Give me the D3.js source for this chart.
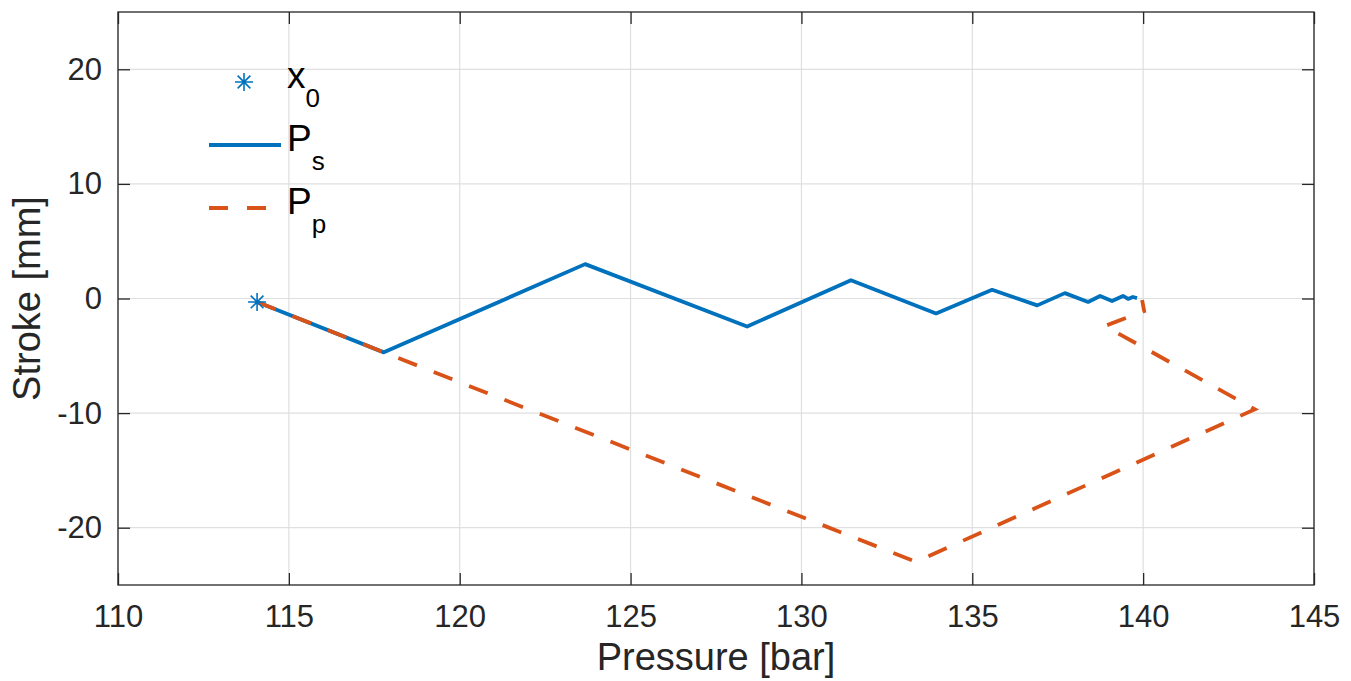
<!DOCTYPE html>
<html>
<head>
<meta charset="utf-8">
<script src="https://cdn.jsdelivr.net/npm/d3@7"></script>
<style>
  html, body { margin: 0; padding: 0; background: #fff; }
  svg { display: block; font-family: "Liberation Sans", Arial, Helvetica, sans-serif; }
</style>
</head>
<body>
<svg id="chart" width="1351" height="681"></svg>
<script>
// ---- data ----
const x0Point = [114.07, -0.3];
const psX = [114.07, 117.78, 123.67, 128.41, 131.45, 133.94, 135.58, 136.9, 137.71, 138.39, 138.74, 139.09, 139.41, 139.56, 139.7, 139.82];
const psY = [-0.3, -4.7, 3.0, -2.45, 1.6, -1.3, 0.76, -0.6, 0.47, -0.3, 0.22, -0.22, 0.22, -0.04, 0.13, 0.04];
const ppX = [114.07, 117.78, 133.35, 143.27, 138.88, 140.03, 139.97];
const ppY = [-0.3, -4.7, -22.98, -9.67, -2.4, -1.1, -0.13];
const xTicks = [110, 115, 120, 125, 130, 135, 140, 145];
const yTicks = [-20, -10, 0, 10, 20];
const xLabel = "Pressure [bar]";
const yLabel = "Stroke [mm]";
const legendItems = [
  { base: "x", sub: "0", kind: "marker" },
  { base: "P", sub: "s", kind: "solid" },
  { base: "P", sub: "p", kind: "dashed" }
];

// ---- layout ----
const L = 118, R = 1314, T = 12, B = 585;
const axisColor = "#262626";
const gridColor = "#dfdfdf";
const blue = "#0072BD", orange = "#D95319";

const svg = d3.select("#chart");
const x = d3.scaleLinear().domain([110, 145]).range([L, R]);
const y = d3.scaleLinear().domain([-25, 25]).range([B, T]);

// grid
const grid = svg.append("g");
grid.selectAll(".gx").data(xTicks).join("line")
  .attr("x1", d => x(d)).attr("x2", d => x(d)).attr("y1", T).attr("y2", B)
  .attr("stroke", gridColor).attr("stroke-width", 1.2);
grid.selectAll(".gy").data(yTicks).join("line")
  .attr("x1", L).attr("x2", R).attr("y1", d => y(d)).attr("y2", d => y(d))
  .attr("stroke", gridColor).attr("stroke-width", 1.2);

// axes
const fmt = d => String(d);
function styleAxis(g) {
  g.select(".domain").remove();
  g.selectAll(".tick line").attr("stroke", axisColor).attr("stroke-width", 1.3);
  g.selectAll("text").attr("fill", axisColor).attr("font-size", 31)
    .attr("font-family", "Liberation Sans, Arial, sans-serif");
}
svg.append("g").attr("transform", `translate(0,${B})`)
  .call(d3.axisBottom(x).tickValues(xTicks).tickSizeInner(-12).tickSizeOuter(0).tickPadding(20).tickFormat(fmt))
  .call(styleAxis);
svg.append("g").attr("transform", `translate(0,${T})`)
  .call(d3.axisTop(x).tickValues(xTicks).tickSizeInner(-12).tickSizeOuter(0).tickFormat(""))
  .call(styleAxis);
svg.append("g").attr("transform", `translate(${L},0)`)
  .call(d3.axisLeft(y).tickValues(yTicks).tickSizeInner(-12).tickSizeOuter(0).tickPadding(16).tickFormat(fmt))
  .call(styleAxis);
svg.append("g").attr("transform", `translate(${R},0)`)
  .call(d3.axisRight(y).tickValues(yTicks).tickSizeInner(-12).tickSizeOuter(0).tickFormat(""))
  .call(styleAxis);

// box
svg.append("rect").attr("x", L).attr("y", T).attr("width", R - L).attr("height", B - T)
  .attr("fill", "none").attr("stroke", axisColor).attr("stroke-width", 1.3);

// axis labels
svg.append("text").attr("x", (L + R) / 2).attr("y", 670).attr("text-anchor", "middle")
  .attr("font-size", 38).attr("fill", axisColor).text(xLabel);
svg.append("text").attr("transform", `translate(40,${(T + B) / 2}) rotate(-90)`).attr("text-anchor", "middle")
  .attr("font-size", 38).attr("fill", axisColor).text(yLabel);

// lines
const line = d3.line().x(d => x(d[0])).y(d => y(d[1]));
const psData = psX.map((v, i) => [v, psY[i]]);
const ppData = ppX.map((v, i) => [v, ppY[i]]);
svg.append("path").datum(psData).attr("d", line).attr("fill", "none")
  .attr("stroke", blue).attr("stroke-width", 3.8).attr("stroke-linejoin", "round");
svg.append("path").datum(ppData).attr("d", line).attr("fill", "none")
  .attr("stroke", orange).attr("stroke-width", 3.8).attr("stroke-dasharray", "20,18");

// asterisk marker
function asterisk(g, cx, cy, r) {
  const d = r * Math.SQRT1_2;
  const p = `M${cx - r},${cy}L${cx + r},${cy}M${cx},${cy - r}L${cx},${cy + r}` +
            `M${cx - d},${cy - d}L${cx + d},${cy + d}M${cx - d},${cy + d}L${cx + d},${cy - d}`;
  g.append("path").attr("d", p).attr("stroke", blue).attr("stroke-width", 1.6).attr("fill", "none");
}
asterisk(svg, x(x0Point[0]), y(x0Point[1]), 9);

// legend
const legY = [82, 145, 208];
const lg = svg.append("g");
legendItems.forEach((it, i) => {
  const cy = legY[i];
  if (it.kind === "marker") asterisk(lg, 244, cy, 9);
  else lg.append("line").attr("x1", 209).attr("x2", 281).attr("y1", cy).attr("y2", cy)
    .attr("stroke", it.kind === "solid" ? blue : orange).attr("stroke-width", 3.8)
    .attr("stroke-dasharray", it.kind === "dashed" ? "19,19" : null);
  const t = lg.append("text").attr("x", 287).attr("y", cy + 6).attr("fill", "#000").attr("font-size", 37);
  t.append("tspan").text(it.base);
  t.append("tspan").attr("dy", 19).attr("font-size", 26).text(it.sub);
});
</script>
</body>
</html>
